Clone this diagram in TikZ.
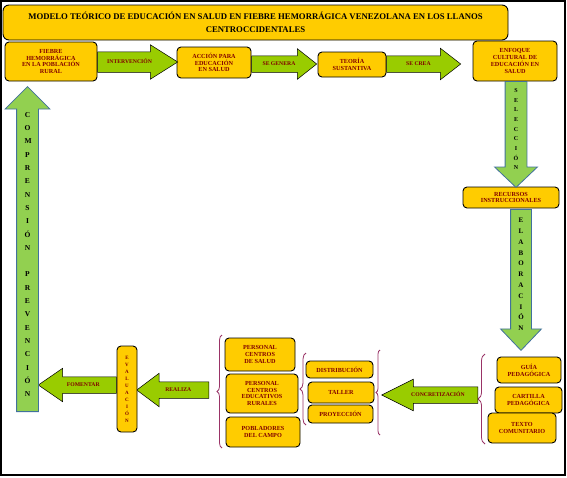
\documentclass[tikz,border=0pt]{standalone}
\usepackage{fontspec}
\setmainfont{Liberation Serif}
\usetikzlibrary{shapes.arrows,decorations.pathreplacing}
\definecolor{amarillo}{HTML}{FFCC00}
\definecolor{verde}{HTML}{99CC00}
\definecolor{verdeclaro}{HTML}{92D050}
\definecolor{azulborde}{HTML}{41719C}
\definecolor{granate}{HTML}{800000}
\definecolor{morado}{HTML}{993366}
\newcommand{\txtnodo}{\fontsize{6.2}{6.8}\selectfont\bfseries}
\newcommand{\txtflecha}{\fontsize{5.7}{6}\selectfont\bfseries}

\begin{document}
\begin{tikzpicture}[x=1pt, y=-1pt,
  caja/.style={draw, fill=amarillo, rounded corners=4pt, line width=0.9pt, align=center, font=\txtnodo, text=granate, inner sep=0pt},
  flecha/.style={single arrow, draw, fill=verde, line width=0.5pt, font=\txtflecha, text=granate, inner xsep=0pt, inner ysep=6.15pt, text height=3.7pt, text depth=0pt, single arrow head indent=0pt, minimum width=0pt, anchor=tail},
  flechav/.style={single arrow, draw=azulborde, fill=verdeclaro, line width=0.8pt, align=center, inner ysep=0pt, text width=6pt, minimum width=0pt, single arrow head indent=0pt, anchor=tail, font=\bfseries},
  llave/.style={draw=morado, line width=0.8pt, decorate, decoration={brace, amplitude=5pt}}
]
\useasboundingbox (0,0) rectangle (567,477);
\draw[line width=2pt] (1,1) rectangle (565,474.5);

% titulo
\node[caja, rounded corners=6pt, minimum width=505, minimum height=35, text=black, font=\fontsize{8.7}{12.5}\selectfont\bfseries] (titulo) at (255.5,22.5)
  {MODELO TEÓRICO DE EDUCACIÓN EN SALUD EN FIEBRE HEMORRÁGICA VENEZOLANA EN LOS LLANOS\\ CENTROCCIDENTALES};

% fila superior
\node[caja, minimum width=92, minimum height=39] (fiebre) at (51,61.5) {FIEBRE\\ HEMORRÁGICA\\ EN LA POBLACIÓN\\ RURAL};
\node[caja, minimum width=74, minimum height=31] (accion) at (214,62.5) {ACCIÓN PARA\\ EDUCACIÓN\\ EN SALUD};
\node[caja, minimum width=68, minimum height=25] (teoria) at (352,64.5) {TEORÍA\\ SUSTANTIVA};
\node[caja, minimum width=84, minimum height=40] (enfoque) at (515,61) {ENFOQUE\\ CULTURAL DE\\ EDUCACIÓN EN\\ SALUD};
\node[caja, minimum width=96, minimum height=21] (recursos) at (511,197.5) {RECURSOS\\ INSTRUCCIONALES};

\node[flecha, inner ysep=8.15pt, single arrow head extend=7pt, single arrow tip angle=64.4, minimum height=80] (intervencion) at (fiebre.east |- 0,62) {INTERVENCIÓN};
\node[flecha, single arrow head extend=7pt, single arrow tip angle=76.6, minimum height=65] (genera) at (accion.east |- 0,64) {SE GENERA};
\node[flecha, single arrow head extend=7.5pt, single arrow tip angle=75.5, minimum height=74] (crea) at (teoria.east |- 0,64) {SE CREA};

% flechas verticales
\node[flechav, shape border rotate=270, inner xsep=7.5pt, single arrow head extend=10.5pt, single arrow tip angle=92.8, minimum height=106, font=\fontsize{6}{9.6}\selectfont\bfseries] (seleccion) at (516,81)
  {S\\E\\L\\E\\C\\C\\I\\Ó\\N};
\node[flechav, shape border rotate=270, inner xsep=7pt, single arrow head extend=10pt, single arrow tip angle=87.2, minimum height=141, font=\fontsize{7}{10.8}\selectfont\bfseries] (elaboracion) at (521,209)
  {E\\L\\A\\B\\O\\R\\A\\C\\I\\Ó\\N};

% grupo derecho
\node[caja, minimum width=64, minimum height=26] (guia) at (529,370) {GUÍA\\ PEDAGÓGICA};
\node[caja, minimum width=67, minimum height=26] (cartilla) at (528.5,400) {CARTILLA\\ PEDAGÓGICA};
\node[caja, minimum width=68, minimum height=30] (texto) at (522,428) {TEXTO\\ COMUNITARIO};
\draw[llave, decoration={amplitude=7pt}] (485,444) -- (485,354);

\node[flecha, shape border rotate=180, single arrow head extend=7.5pt, single arrow tip angle=53.1, minimum height=96] (concreta) at (478,395) {CONCRETIZACIÓN};
\draw[llave, decoration={amplitude=4pt}] (380,435) -- (380,350);

% grupo central
\node[caja, minimum width=67, minimum height=17] (distribucion) at (339.5,369.5) {DISTRIBUCIÓN};
\node[caja, minimum width=66, minimum height=21] (taller) at (341,392.5) {TALLER};
\node[caja, minimum width=65, minimum height=18] (proyeccion) at (340.5,414) {PROYECCIÓN};
\draw[llave, decoration={amplitude=6pt}] (306,425) -- (306,353);

\node[caja, minimum width=70, minimum height=33] (salud) at (260,354.5) {PERSONAL\\ CENTROS\\ DE SALUD};
\node[caja, minimum width=72, minimum height=39] (educativos) at (262,393.5) {PERSONAL\\ CENTROS\\ EDUCATIVOS\\ RURALES};
\node[caja, minimum width=74, minimum height=30] (pobladores) at (263,432) {POBLADORES\\ DEL CAMPO};
\draw[llave] (222,448) -- (222,335);

\node[flecha, shape border rotate=180, single arrow head extend=8.5pt, single arrow tip angle=73.7, minimum height=72] (realiza) at (209,390) {REALIZA};
\node[caja, minimum width=20, minimum height=86, font=\fontsize{5}{7}\selectfont\bfseries] (evaluacion) at (127,389) {E\\V\\A\\L\\U\\A\\C\\I\\Ó\\N};
\node[flecha, shape border rotate=180, single arrow head extend=8.5pt, single arrow tip angle=69, minimum height=78] (fomentar) at (evaluacion.west |- 0,385) {FOMENTAR};

% flecha izquierda
\node[flechav, shape border rotate=90, inner xsep=7.5pt, single arrow head extend=11.5pt, single arrow tip angle=90, minimum height=325, font=\fontsize{7.5}{13.3}\selectfont\bfseries] (comprension) at (27.5,412)
  {C\\O\\M\\P\\R\\E\\N\\S\\I\\Ó\\N\\~\\P\\R\\E\\V\\E\\N\\C\\I\\Ó\\N};
\end{tikzpicture}
\end{document}
